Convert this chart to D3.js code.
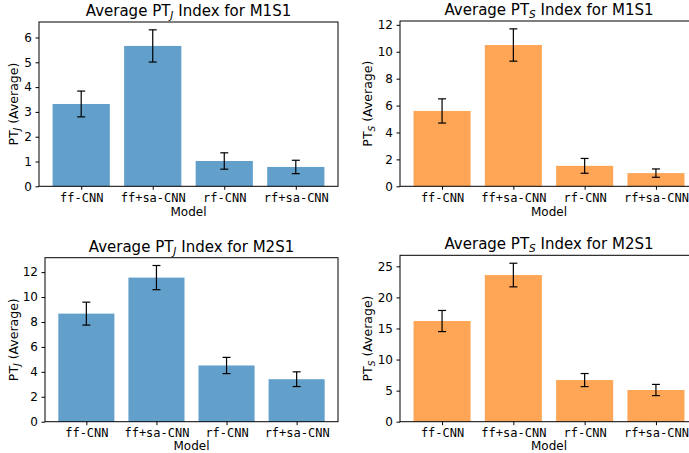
<!DOCTYPE html>
<html>
<head>
<meta charset="utf-8">
<script src="https://cdn.jsdelivr.net/npm/d3@7"></script>
<style>
  body { margin: 0; background: #fff; }
  svg { display: block; }
</style>
</head>
<body>
<div id="chart"></div>
<script>
// data
var models = ['ff-CNN', 'ff+sa-CNN', 'rf-CNN', 'rf+sa-CNN'];

var ptjM1S1 = [3.32, 5.66, 1.02, 0.78];
var ptjM1S1Err = [0.52, 0.65, 0.33, 0.27];
var ptsM1S1 = [5.6, 10.5, 1.52, 0.98];
var ptsM1S1Err = [0.9, 1.2, 0.55, 0.31];
var ptjM2S1 = [8.67, 11.56, 4.51, 3.41];
var ptjM2S1Err = [0.92, 0.97, 0.65, 0.59];
var ptsM2S1 = [16.2, 23.6, 6.7, 5.1];
var ptsM2S1Err = [1.7, 1.9, 1.05, 0.9];

var ptjM1S1Ticks = [0, 1, 2, 3, 4, 5, 6];
var ptsM1S1Ticks = [0, 2, 4, 6, 8, 10, 12];
var ptjM2S1Ticks = [0, 2, 4, 6, 8, 10, 12];
var ptsM2S1Ticks = [0, 5, 10, 15, 20, 25];

var width = 689, height = 453;
var blue = '#62a0cb', orange = '#ffa556';
var fontFamily = 'DejaVu Sans, sans-serif',
    monoFamily = 'DejaVu Sans Mono, monospace',
    fontSize = '12px',
    labelSize = '12.5px',
    titleSize = '15px';

var svg = d3.select('#chart')
  .append('svg')
  .attr('width', width)
  .attr('height', height);

function drawPanel(opt) {
  var x = d3.scaleLinear()
    .domain([-0.59, models.length - 1 + 0.59])
    .range([opt.left, opt.right]);
  var ymax = d3.max(opt.values, function(d, i) { return d + opt.errors[i]; }) * 1.05;
  var y = d3.scaleLinear()
    .domain([0, ymax])
    .range([opt.bottom, opt.top]);

  var g = svg.append('g');
  var unit = x(1) - x(0);

  // bars
  g.selectAll('rect.bar')
    .data(opt.values)
    .enter().append('rect')
    .attr('x', function(d, i) { return x(i) - unit * 0.4; })
    .attr('width', unit * 0.8)
    .attr('y', function(d) { return y(d); })
    .attr('height', function(d) { return y(0) - y(d); })
    .style('fill', opt.color);

  // error bars
  var cap = 4;
  var eb = g.selectAll('g.err')
    .data(opt.values)
    .enter().append('g')
    .style('stroke', '#000')
    .style('stroke-width', 1.2);
  eb.append('line')
    .attr('x1', function(d, i) { return x(i); })
    .attr('x2', function(d, i) { return x(i); })
    .attr('y1', function(d, i) { return y(d - opt.errors[i]); })
    .attr('y2', function(d, i) { return y(d + opt.errors[i]); });
  eb.append('line')
    .attr('x1', function(d, i) { return x(i) - cap; })
    .attr('x2', function(d, i) { return x(i) + cap; })
    .attr('y1', function(d, i) { return y(d - opt.errors[i]); })
    .attr('y2', function(d, i) { return y(d - opt.errors[i]); });
  eb.append('line')
    .attr('x1', function(d, i) { return x(i) - cap; })
    .attr('x2', function(d, i) { return x(i) + cap; })
    .attr('y1', function(d, i) { return y(d + opt.errors[i]); })
    .attr('y2', function(d, i) { return y(d + opt.errors[i]); });

  // frame
  g.append('rect')
    .attr('x', opt.left)
    .attr('y', opt.top)
    .attr('width', opt.right - opt.left)
    .attr('height', opt.bottom - opt.top)
    .style('fill', 'none')
    .style('stroke', '#000')
    .style('stroke-width', 1);

  // axes
  var yAxis = g.append('g')
    .attr('transform', 'translate(' + opt.left + ',0)')
    .call(d3.axisLeft(y).tickValues(opt.ticks).tickSize(3.5).tickPadding(3.5).tickFormat(d3.format('d')));
  yAxis.select('.domain').remove();
  yAxis.selectAll('text')
    .attr('font-family', fontFamily)
    .attr('font-size', fontSize)
    .attr('fill', '#000');

  var xAxis = g.append('g')
    .attr('transform', 'translate(0,' + opt.bottom + ')')
    .call(d3.axisBottom(x).tickValues(d3.range(models.length)).tickSize(3.5).tickPadding(3.5)
      .tickFormat(function(i) { return models[i]; }));
  xAxis.select('.domain').remove();
  xAxis.selectAll('text')
    .attr('font-family', monoFamily)
    .attr('font-size', fontSize)
    .attr('fill', '#000');

  // x label
  g.append('text')
    .attr('x', (opt.left + opt.right) / 2)
    .attr('y', opt.bottom + opt.xlabelDy)
    .attr('text-anchor', 'middle')
    .attr('font-family', fontFamily)
    .attr('font-size', fontSize)
    .text('Model');

  // y label
  var yl = g.append('text')
    .attr('transform', 'translate(' + opt.ylabelX + ',' + (opt.top + opt.bottom) / 2 + ') rotate(-90)')
    .attr('text-anchor', 'middle')
    .attr('font-family', fontFamily)
    .attr('font-size', labelSize);
  yl.append('tspan').text('PT');
  yl.append('tspan').attr('font-size', '9px').attr('font-style', 'italic').attr('dy', 2.5).text(opt.sub);
  yl.append('tspan').attr('dy', -2.5).text(' (Average)');

  // title
  var t = g.append('text')
    .attr('x', (opt.left + opt.right) / 2)
    .attr('y', opt.top - 6)
    .attr('text-anchor', 'middle')
    .attr('font-family', fontFamily)
    .attr('font-size', titleSize);
  t.append('tspan').text('Average PT');
  t.append('tspan').attr('font-size', '10.5px').attr('font-style', 'italic').attr('dy', 3).text(opt.sub);
  t.append('tspan').attr('dy', -3).text(' Index for ' + opt.name);
}

drawPanel({ values: ptjM1S1, errors: ptjM1S1Err, ticks: ptjM1S1Ticks, color: blue, sub: 'J', name: 'M1S1',
  left: 39, right: 338, top: 22, bottom: 186.3, ylabelX: 17.5, xlabelDy: 30 });
drawPanel({ values: ptsM1S1, errors: ptsM1S1Err, ticks: ptsM1S1Ticks, color: orange, sub: 'S', name: 'M1S1',
  left: 400, right: 698, top: 21, bottom: 186.3, ylabelX: 372, xlabelDy: 30 });
drawPanel({ values: ptjM2S1, errors: ptjM2S1Err, ticks: ptjM2S1Ticks, color: blue, sub: 'J', name: 'M2S1',
  left: 45, right: 338, top: 257.7, bottom: 421.7, ylabelX: 17.5, xlabelDy: 28.5 });
drawPanel({ values: ptsM2S1, errors: ptsM2S1Err, ticks: ptsM2S1Ticks, color: orange, sub: 'S', name: 'M2S1',
  left: 400, right: 698, top: 255.3, bottom: 421.7, ylabelX: 372, xlabelDy: 28.5 });
</script>
</body>
</html>
